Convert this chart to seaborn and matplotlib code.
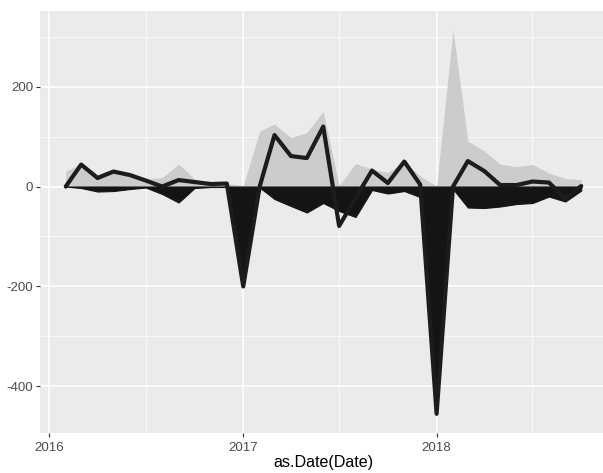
import matplotlib
matplotlib.use("Agg")
import matplotlib.pyplot as plt
import matplotlib.dates as mdates
import matplotlib.ticker as mticker
import numpy as np
import pandas as pd
import seaborn as sns

# monthly values, Feb 2016 .. Oct 2018
months = pd.date_range("2016-02-01", "2018-10-01", freq="MS")

gains = [31, 45, 25, 35, 25, 15, 18, 45, 15, 8, 6,
         2, 111, 125, 98, 108, 150, 2, 46, 35, 28, 50, 21,
         1, 313, 91, 71, 45, 40, 44, 27, 16, 14]

losses = [0, -3, -10, -9, -5, -2, -15, -32, -3, -1, -1,
          -200, -2, -25, -39, -52, -33, -49, -61, -7, -14, -9, -21,
          -455, -5, -42, -43, -40, -35, -33, -20, -30, -8]

net = [0, 44, 17, 30, 23, 12, 0, 13, 9, 5, 6,
       -200, 0, 103, 61, 57, 120, -79, -23, 32, 7, 50, 4,
       -455, 0, 51, 31, 3, 3, 10, 8, -24, 1]

year_ticks = pd.to_datetime(["2016-01-01", "2017-01-01", "2018-01-01"])
year_labels = ["2016", "2017", "2018"]
y_ticks = [-400, -200, 0, 200]

df = pd.DataFrame({"Date": months, "gain": gains, "loss": losses, "net": net})

sns.set_theme(style="darkgrid", rc={
    "axes.facecolor": "#EBEBEB",
    "grid.color": "white",
    "axes.edgecolor": "#EBEBEB",
})
plt.rcParams["font.family"] = ["Liberation Sans", "DejaVu Sans"]

fig = plt.figure(figsize=(6.03, 4.73), dpi=100)
# panel runs a bit past the right edge, like the cropped original
ax = fig.add_axes([40 / 603, 40 / 473, 567 / 603, 422 / 473])

ax.fill_between(df["Date"], 0, df["gain"], color="#CCCCCC", linewidth=0, zorder=2)
ax.fill_between(df["Date"], 0, df["loss"], color="#141414", edgecolor="#141414",
                linewidth=0.8, zorder=3)
sns.lineplot(data=df, x="Date", y="net", ax=ax, color="#1C1C1C", linewidth=3.0,
             zorder=4)

# ggplot-like expansion of 5%
d0, d1 = mdates.date2num(df["Date"].min()), mdates.date2num(df["Date"].max())
pad = (d1 - d0) * 0.05
ax.set_xlim(d0 - pad, d1 + pad)
lo = min(df["loss"].min(), df["net"].min())
hi = max(df["gain"].max(), df["net"].max())
ypad = (hi - lo) * 0.05
ax.set_ylim(lo - ypad, hi + ypad)

ax.set_xticks(year_ticks)
ax.set_xticklabels(year_labels)
ax.xaxis.set_minor_locator(mdates.MonthLocator(bymonth=7))
ax.set_yticks(y_ticks)
ax.set_yticklabels([str(v) for v in y_ticks])
ax.yaxis.set_minor_locator(mticker.MultipleLocator(200, offset=100))

ax.grid(which="major", color="white", linewidth=1.1)
ax.grid(which="minor", color="white", linewidth=0.5)
ax.set_axisbelow(True)

ax.tick_params(axis="both", which="major", length=3, width=0.8, color="#333333",
               labelsize=9.6, labelcolor="#4D4D4D", pad=3.5, direction="out",
               bottom=True, left=True)
ax.tick_params(axis="y", which="major", pad=2)
ax.tick_params(axis="both", which="minor", length=0)

ax.set_xlabel("as.Date(Date)", fontsize=11.6, color="black", labelpad=1)
ax.set_ylabel("")
for s in ax.spines.values():
    s.set_visible(False)

fig.savefig("out.png", dpi=100)
